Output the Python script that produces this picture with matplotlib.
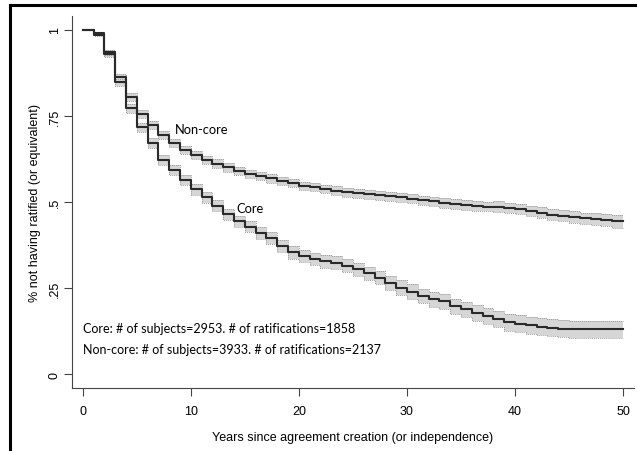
import matplotlib
matplotlib.use("Agg")
import matplotlib.pyplot as plt
from matplotlib.lines import Line2D

# Kaplan-Meier style estimates, one value per year (value holds from t to t+1)
years = list(range(0, 51))
core = [1.000, 0.985, 0.930, 0.848, 0.772, 0.717, 0.671, 0.622, 0.594, 0.565,
        0.538, 0.514, 0.490, 0.465, 0.444, 0.429, 0.411, 0.396, 0.373, 0.354,
        0.344, 0.335, 0.329, 0.324, 0.315, 0.305, 0.293, 0.281, 0.265, 0.252,
        0.240, 0.227, 0.218, 0.212, 0.198, 0.189, 0.179, 0.170, 0.162, 0.151,
        0.147, 0.142, 0.139, 0.136, 0.133, 0.131, 0.131, 0.131, 0.131, 0.131,
        0.131]
noncore = [1.000, 0.990, 0.935, 0.862, 0.806, 0.757, 0.724, 0.695, 0.672, 0.652,
           0.636, 0.622, 0.612, 0.601, 0.591, 0.581, 0.575, 0.569, 0.562, 0.555,
           0.548, 0.543, 0.538, 0.533, 0.529, 0.526, 0.523, 0.520, 0.517, 0.514,
           0.510, 0.506, 0.502, 0.498, 0.495, 0.492, 0.489, 0.487, 0.487, 0.484,
           0.480, 0.475, 0.469, 0.464, 0.460, 0.456, 0.453, 0.451, 0.449, 0.444,
           0.444]
# half width of the 95% confidence band
core_ci = [0.000, 0.004, 0.008, 0.011, 0.013, 0.014, 0.014, 0.015, 0.015, 0.015,
           0.016, 0.016, 0.016, 0.016, 0.017, 0.017, 0.017, 0.017, 0.018, 0.018,
           0.018, 0.018, 0.019, 0.019, 0.019, 0.019, 0.020, 0.020, 0.020, 0.021,
           0.021, 0.021, 0.022, 0.022, 0.022, 0.022, 0.023, 0.023, 0.023, 0.024,
           0.024, 0.024, 0.024, 0.024, 0.024, 0.024, 0.024, 0.024, 0.024, 0.024,
           0.024]
noncore_ci = [0.000, 0.003, 0.007, 0.010, 0.011, 0.012, 0.012, 0.012, 0.012, 0.012,
              0.012, 0.012, 0.012, 0.012, 0.012, 0.012, 0.012, 0.012, 0.012, 0.012,
              0.012, 0.012, 0.012, 0.013, 0.013, 0.013, 0.013, 0.013, 0.013, 0.013,
              0.013, 0.013, 0.013, 0.014, 0.014, 0.014, 0.014, 0.014, 0.015, 0.015,
              0.015, 0.015, 0.016, 0.016, 0.016, 0.017, 0.017, 0.017, 0.018, 0.018,
              0.018]

xticks = [0, 10, 20, 30, 40, 50]
yticks = [0, 0.25, 0.5, 0.75, 1]
ytick_labels = ["0", ".25", ".5", ".75", "1"]
notes = ["Core: # of subjects=2953. # of ratifications=1858",
         "Non-core: # of subjects=3933. # of ratifications=2137"]

fig = plt.figure(figsize=(6.37, 4.52), dpi=100)
ax = fig.add_axes([0.113, 0.139, 0.882, 0.823])

line_col = "#2a2a2a"
band_col = "#d6d6d6"
edge_col = "#9c9c9c"

for surv, ci in [(noncore, noncore_ci), (core, core_ci)]:
    lo = [s - c for s, c in zip(surv, ci)]
    hi = [s + c for s, c in zip(surv, ci)]
    ax.fill_between(years, lo, hi, step="post", color=band_col, lw=0, zorder=1)
    ax.step(years, lo, where="post", color=edge_col, lw=0.7, ls=(0, (1, 1)), zorder=2)
    ax.step(years, hi, where="post", color=edge_col, lw=0.7, ls=(0, (1, 1)), zorder=2)
for surv in [noncore, core]:
    ax.step(years, surv, where="post", color=line_col, lw=1.5, zorder=3, clip_on=False)

ax.text(8.5, 0.712, "Non-core", family="Lato", fontsize=9.3, va="center", ha="left")
ax.text(14.2, 0.483, "Core", family="Lato", fontsize=9.3, va="center", ha="left")
ax.text(0, 0.134, notes[0], family="Lato", fontsize=9, va="center", ha="left")
ax.text(0, 0.073, notes[1], family="Lato", fontsize=9, va="center", ha="left")

ax.set_xlim(-1, 51)
ax.set_ylim(-0.04, 1.04)
ax.set_xticks(xticks)
ax.set_xticklabels([str(x) for x in xticks])
ax.set_yticks(yticks)
ax.set_yticklabels(ytick_labels, rotation=90, va="center")
for lab in ax.get_xticklabels() + ax.get_yticklabels():
    lab.set_family("Liberation Sans")
    lab.set_fontsize(9)
ax.tick_params(direction="out", length=6, width=0.8, color="#444444")
ax.tick_params(axis="x", pad=6)
ax.tick_params(axis="y", pad=2)
ax.spines["top"].set_visible(False)
ax.spines["right"].set_visible(False)
ax.spines["left"].set_color("#444444")
ax.spines["bottom"].set_color("#444444")
ax.set_xlabel("Years since agreement creation (or independence)",
              family="Liberation Sans", fontsize=9, labelpad=10)
ax.set_ylabel("% not having ratified (or equivalent)",
              family="Liberation Sans", fontsize=9, labelpad=6)

# outer frame of the original figure (left and top edges visible)
fig.add_artist(Line2D([0.016, 0.016], [0.0, 0.987], color="black", lw=2.2,
                      transform=fig.transFigure))
fig.add_artist(Line2D([0.016, 1.0], [0.987, 0.987], color="black", lw=2.2,
                      transform=fig.transFigure))

plt.savefig("out.png", dpi=100)
